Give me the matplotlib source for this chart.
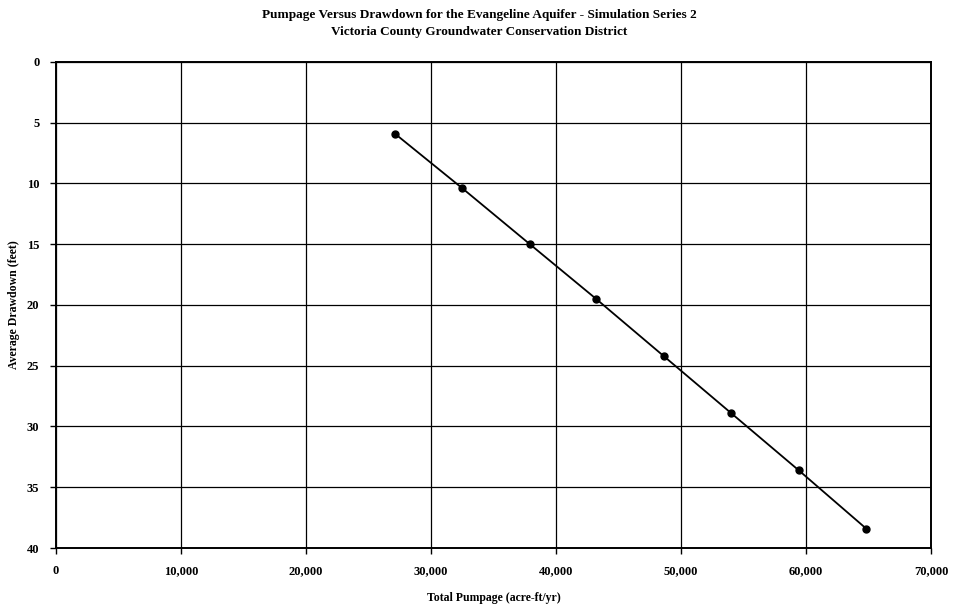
import matplotlib
matplotlib.use("Agg")
import matplotlib.pyplot as plt
from matplotlib.ticker import FuncFormatter

pumpage = [27100, 32500, 37900, 43200, 48600, 54000, 59400, 64800]
drawdown = [5.9, 10.4, 15.0, 19.5, 24.2, 28.9, 33.6, 38.4]
x_ticks = [0, 10000, 20000, 30000, 40000, 50000, 60000, 70000]
y_ticks = [0, 5, 10, 15, 20, 25, 30, 35, 40]

title = ("Pumpage Versus Drawdown for the Evangeline Aquifer - Simulation Series 2\n"
         "Victoria County Groundwater Conservation District")

plt.rcParams['font.family'] = ['Liberation Serif', 'DejaVu Serif']

fig = plt.figure(figsize=(9.58, 6.13), dpi=100)
ax = fig.add_axes([0.0585, 0.106, 0.9135, 0.793])

ax.plot(pumpage, drawdown, color='black', lw=1.3, marker='o', ms=5,
        markerfacecolor='black', markeredgecolor='black', zorder=3)

ax.set_xlim(0, 70000)
ax.set_ylim(40, 0)
ax.set_xticks(x_ticks)
ax.set_yticks(y_ticks)
ax.xaxis.set_major_formatter(FuncFormatter(lambda v, p: f"{int(v):,}"))
ax.grid(True, color='black', lw=0.9)
ax.set_axisbelow(True)
for s in ax.spines.values():
    s.set_linewidth(1.4)
    s.set_color('black')
ax.tick_params(axis='both', direction='out', length=4, width=1, labelsize=9, pad=8)
for lab in ax.get_xticklabels() + ax.get_yticklabels():
    lab.set_fontweight('bold')

ax.set_xlabel("Total Pumpage (acre-ft/yr)", fontsize=8.5, fontweight='bold', labelpad=11)
ax.set_ylabel("Average Drawdown (feet)", fontsize=8.5, fontweight='bold', labelpad=5)
fig.text(0.5, 0.985, title, ha='center', va='top', fontsize=9.5,
         fontweight='bold', linespacing=1.5)

fig.savefig("out.png", dpi=100)
